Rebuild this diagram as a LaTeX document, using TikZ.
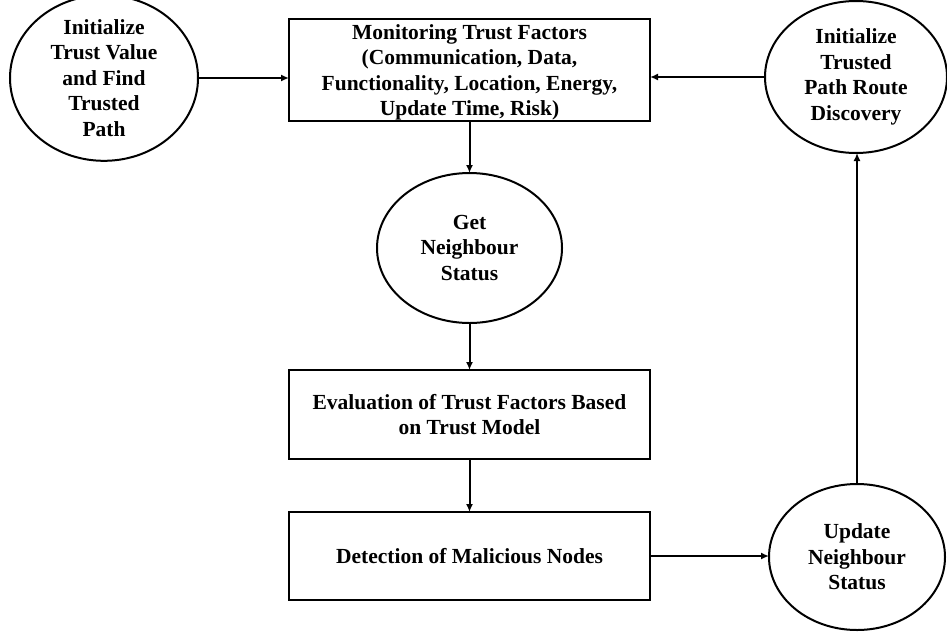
\documentclass[tikz,border=0pt]{standalone}
\usepackage{fontspec}
\setmainfont{Liberation Serif}
\usetikzlibrary{shapes.geometric,arrows.meta}
\begin{document}
\begin{tikzpicture}[x=1pt,y=1pt, line width=2pt,
  every node/.style={font=\bfseries\fontsize{21.5}{25.5}\selectfont, align=center, inner sep=0pt, outer sep=0pt},
  oval/.style={draw, ellipse},
  boxnode/.style={draw, rectangle, minimum width=361pt},
  conn/.style={-{Latex[length=8pt,width=7pt]}}]
\useasboundingbox (0,0) rectangle (947,-632);
\node[oval, minimum width=188pt, minimum height=152pt] (init) at (104,-78) {Initialize\\Trust Value\\and Find\\Trusted\\Path};
\node[boxnode, minimum height=102pt] (mon) at (469.5,-70) {\rule{0pt}{20pt}Monitoring Trust Factors\\(Communication, Data,\\Functionality, Location, Energy,\\Update Time, Risk)};
\node[oval, minimum width=182pt, minimum height=152pt] (itp) at (856,-77) {Initialize\\Trusted\\Path Route\\Discovery};
\node[oval, minimum width=185pt, minimum height=150pt] (get) at (469.5,-248) {Get\\Neighbour\\Status};
\node[boxnode, minimum height=89pt] (eval) at (469.5,-414.5) {Evaluation of Trust Factors Based\\on Trust Model};
\node[boxnode, minimum height=88pt] (det) at (469.5,-556) {Detection of Malicious Nodes};
\node[oval, minimum width=176pt, minimum height=146pt] (upd) at (857,-557) {Update\\Neighbour\\Status};
\draw[conn] (init.east) -- (init.east -| mon.west);
\draw[conn] (itp.west) -- (itp.west -| mon.east);
\draw[conn] (mon.south) -- (get.north);
\draw[conn] (get.south) -- (eval.north);
\draw[conn] (eval.south) -- (det.north);
\draw[conn] (det.east) -- (det.east -| upd.west);
\draw[conn] (upd.north) -- (upd.north |- itp.south);
\end{tikzpicture}
\end{document}
